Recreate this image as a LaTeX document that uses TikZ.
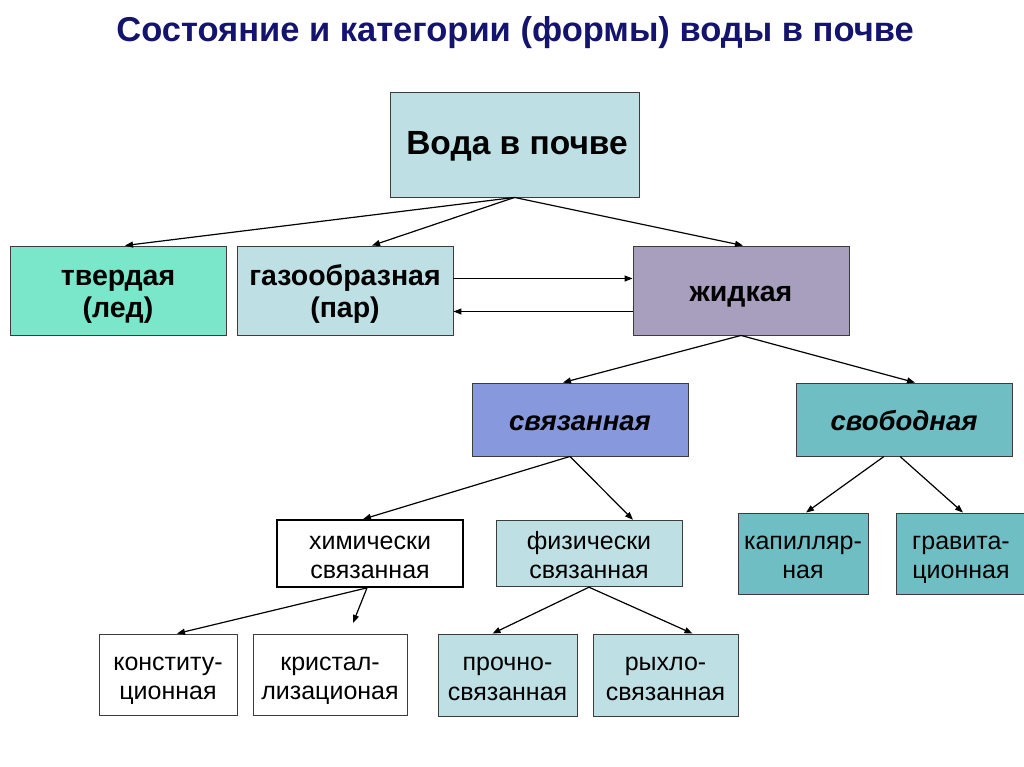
\documentclass[tikz,border=0pt]{standalone}
\usepackage{fontspec}
\setmainfont{Liberation Sans}
\usepackage{xcolor}
\usetikzlibrary{arrows.meta}

\definecolor{titleblue}{RGB}{20,20,110}
\definecolor{boxline}{RGB}{60,60,60}
\definecolor{paleblue}{RGB}{190,224,228}
\definecolor{icegreen}{RGB}{122,230,202}
\definecolor{liquidgrey}{RGB}{168,158,190}
\definecolor{boundblue}{RGB}{135,152,220}
\definecolor{freeteal}{RGB}{110,190,196}

% two-line labels with fixed top and bottom struts
\newcommand{\bigpair}[2]{\rule{0pt}{28pt}#1\\#2\rule[-7pt]{0pt}{0pt}}
\newcommand{\smallpair}[2]{\rule{0pt}{29pt}#1\\#2\rule[-8pt]{0pt}{0pt}}

\tikzset{
	cell/.style 2 args = {draw = boxline, line width = 0.9pt, inner sep = 0pt,
		align = center, minimum width = #1, minimum height = #2},
	oneline/.style = {execute at begin node = {\rule{0pt}{28pt}},
		execute at end node = {\rule[-7pt]{0pt}{0pt}}},
	bigtext/.style = {font = \fontsize{28.5}{32}\selectfont\bfseries},
	smalltext/.style = {font = \fontsize{25}{29.5}\selectfont},
	link/.style = {-{Triangle[length = 8pt, width = 6pt]}, line width = 1.2pt}
}

\begin{document}
\begin{tikzpicture}[x = 1pt, y = -1pt]
			\useasboundingbox (0,0) rectangle (1024,767);
			\clip (0,0) rectangle (1024,767);

			\node[anchor = base, inner sep = 0pt, text = titleblue, font = \fontsize{34.5}{40}\selectfont\bfseries] (title) at (515,42) {Состояние и категории (формы) воды в почве};

			% top
			\node[cell = {249pt}{105pt}, fill = paleblue, oneline, font = \fontsize{33.5}{38}\selectfont\bfseries] (voda) at (514.5,144.5) {\hspace*{5pt}Вода в почве};

			% states
			\begin{scope}[bigtext]
				\node[cell = {216pt}{89pt}, fill = icegreen] (tverd) at (118,290.5) {\bigpair{твердая}{(лед)}};
				\node[cell = {216pt}{89pt}, fill = paleblue] (gaz) at (345,290.5) {\bigpair{газообразная}{(пар)}};
				\node[cell = {216pt}{89pt}, fill = liquidgrey, oneline] (zhidk) at (741,290.5) {жидкая};
			\end{scope}

			\begin{scope}[oneline, font = \fontsize{27.5}{32}\selectfont\bfseries\itshape]
				\node[cell = {216pt}{73pt}, fill = boundblue] (svyaz) at (580,419.5) {связанная};
				\node[cell = {216pt}{73pt}, fill = freeteal] (svobod) at (904,419.5) {свободная};
			\end{scope}

			% categories
			\begin{scope}[smalltext]
				\node[cell = {186pt}{65pt}, fill = white, line width = 2.2pt, draw = black] (khim) at (370,553.5) {\smallpair{химически}{связанная}};
				\node[cell = {186pt}{65pt}, fill = paleblue] (fiz) at (589,553.5) {\smallpair{физически}{связанная}};
				\node[cell = {130pt}{81pt}, fill = freeteal] (kapill) at (803,553.5) {\smallpair{капилляр-}{ная}};
				\node[cell = {130pt}{81pt}, fill = freeteal] (gravit) at (961,553.5) {\smallpair{гравита-}{ционная}};

				\node[cell = {138pt}{81pt}, fill = white] (konstit) at (168,674.5) {\smallpair{конститу-}{ционная}};
				\node[cell = {154pt}{81pt}, fill = white] (kristal) at (330,674.5) {\smallpair{кристал-}{лизационая}};
				\node[cell = {139pt}{82pt}, fill = paleblue] (prochno) at (507.5,675) {\smallpair{прочно-}{связанная}};
				\node[cell = {145pt}{82pt}, fill = paleblue] (rykhlo) at (665.5,675) {\smallpair{рыхло-}{связанная}};
			\end{scope}

			\coordinate (kristaltip) at (353,623);

			% arrows
			\begin{scope}[link]
				\draw (voda.south) -- ([xshift = 7pt]tverd.north);
				\draw (voda.south) -- ([xshift = 27pt]gaz.north);
				\draw (voda.south) -- ([xshift = 2pt]zhidk.north);

				\draw ([yshift = 12pt]gaz.east) -- ([yshift = 12pt]zhidk.west);
				\draw ([yshift = -21pt]zhidk.west) -- ([yshift = -21pt]gaz.east);

				\draw (zhidk.south) -- ([xshift = -17pt]svyaz.north);
				\draw (zhidk.south) -- ([xshift = 11pt]svobod.north);

				\draw ([xshift = -10pt]svyaz.south) -- ([xshift = -7pt]khim.north);
				\draw ([xshift = -10pt]svyaz.south) -- ([xshift = 44pt]fiz.north);

				\draw ([xshift = -20pt]svobod.south) -- ([xshift = 3pt]kapill.north);
				\draw ([xshift = -4pt]svobod.south) -- ([xshift = 2pt]gravit.north);

				\draw ([xshift = -3pt]khim.south) -- ([xshift = 9pt]konstit.north);
				\draw ([xshift = -3pt]khim.south) -- (kristaltip);

				\draw (fiz.south) -- ([xshift = -15pt]prochno.north);
				\draw (fiz.south) -- ([xshift = 27pt]rykhlo.north);
			\end{scope}
		\end{tikzpicture}
\end{document}
